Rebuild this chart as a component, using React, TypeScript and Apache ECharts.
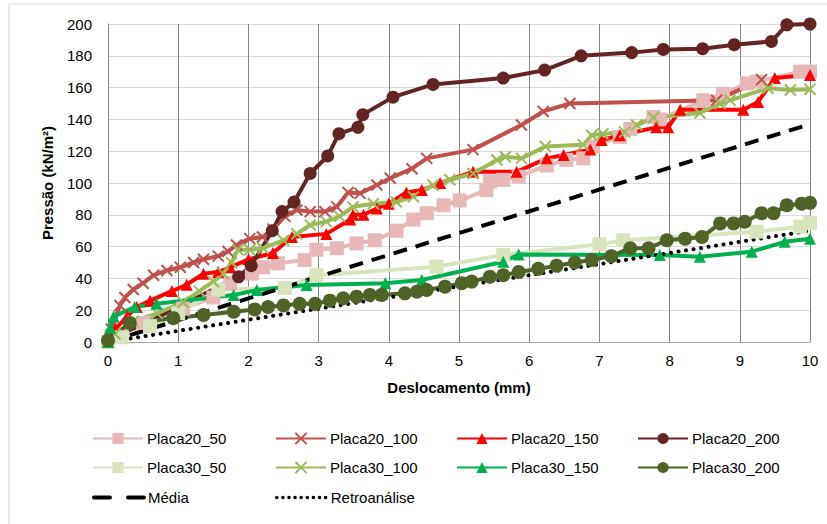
import React, { useEffect, useRef } from "react";
import * as echarts from "echarts";

const xTicks = [0, 1, 2, 3, 4, 5, 6, 7, 8, 9, 10];
const yTicks = [0, 20, 40, 60, 80, 100, 120, 140, 160, 180, 200];

const placa20_50 = [[0,0],[0.05,4],[0.5,12],[1.07,21],[1.5,28],[1.74,37],[2.05,43],[2.21,47],[2.42,49.5],[2.8,51.5],[2.97,58],[3.26,59],[3.54,62],[3.8,64],[4.11,70],[4.35,77],[4.54,81],[4.78,86],[5.01,89],[5.39,95.5],[5.44,101],[5.63,102],[5.85,104],[6.25,111],[6.53,114.5],[6.77,115.5],[6.91,123],[7.29,129],[7.44,134],[7.77,141.5],[7.86,140],[8.48,152],[8.76,156],[9.1,162.7],[9.24,163.7],[9.86,170],[10,170]];
const placa20_100 = [[0,0],[0.05,8],[0.17,23],[0.24,28],[0.36,33],[0.5,37],[0.65,42],[0.84,45],[1.03,47],[1.22,50],[1.36,52],[1.57,54],[1.71,57],[1.83,61],[2.02,65],[2.2,66],[2.35,71],[2.52,79],[2.69,83],[2.88,82],[3.09,82],[3.26,85],[3.42,94],[3.59,93.5],[3.83,98.7],[4.02,103],[4.33,109],[4.54,115.5],[5.2,121],[5.89,136.5],[6.2,145],[6.58,150],[8.67,152],[9.31,165]];
const placa20_150 = [[0,0],[0.1,8],[0.27,16],[0.41,22],[0.6,26],[0.91,32],[1.12,36],[1.36,43],[1.57,44],[1.74,47],[2.0,52],[2.35,56],[2.62,66],[3.11,68],[3.45,77],[3.49,80],[3.64,80],[3.83,84],[4.0,87],[4.25,94],[4.47,95.6],[4.73,100],[5.2,107],[5.82,107],[6.25,115.5],[6.49,117.6],[6.87,121],[7.03,127],[7.29,130],[7.81,135],[7.98,135],[8.15,146],[9.05,146],[9.26,151],[9.5,166],[10,168]];
const placa20_200 = [[0,0],[1.86,41],[2.04,48],[2.34,70],[2.48,82],[2.65,88],[2.88,106],[3.13,117],[3.29,131],[3.56,135],[3.63,143],[4.06,154],[4.63,162],[5.63,166],[6.22,171],[6.74,180],[7.46,182],[7.91,184],[8.47,184.5],[8.92,187],[9.45,189],[9.67,199.5],[10,200]];
const placa30_50 = [[0,0],[0.2,3],[0.6,10],[1.0,18],[1.57,33],[2.52,34],[2.97,42],[4.68,47.4],[5.63,54.7],[7.0,61.5],[7.34,64],[9.24,69.4],[9.86,72.5],[10,75]];
const placa30_100 = [[0,0],[0.1,5],[0.36,13],[0.7,18],[1.07,25],[1.3,32],[1.5,38],[1.64,43],[1.76,50],[1.85,58],[2.02,58],[2.21,59],[2.5,64],[2.69,68],[2.88,73.6],[3.11,75.7],[3.3,79],[3.49,85],[3.78,87],[4.11,88],[4.35,91.4],[4.63,98.7],[4.87,102],[5.2,106],[5.54,114.5],[5.66,116.5],[5.89,115.5],[6.23,123],[6.77,124],[6.89,130],[7.05,131],[7.36,132],[7.53,136.5],[7.77,141],[8.43,144],[8.72,150],[8.86,152],[9.4,159.6],[9.72,158.5],[10,159]];
const placa30_150 = [[0,0],[0.03,9],[0.08,16],[0.38,22],[0.69,24],[1.79,29.6],[2.12,32.7],[2.83,35.8],[3.95,37],[4.47,39],[5.63,50.5],[5.85,55],[7.86,54.7],[8.43,53.6],[9.17,56.8],[9.64,63],[10,65]];
const placa30_200 = [[0,1],[0.31,12],[0.93,15],[1.36,17],[1.79,19],[2.09,20.5],[2.28,22],[2.5,23],[2.73,24],[2.95,24],[3.16,26],[3.35,27.5],[3.54,28.5],[3.73,29.6],[3.9,29.6],[4.23,30.6],[4.4,31.6],[4.54,32.7],[4.8,34.8],[5.04,37],[5.18,38],[5.44,41],[5.63,42],[5.85,44],[6.13,46],[6.39,48],[6.65,50],[6.89,51.6],[7.17,54],[7.44,59],[7.7,59],[7.96,64],[8.22,65],[8.46,66],[8.72,74.6],[8.91,74.6],[9.07,75.6],[9.31,81],[9.48,81],[9.67,86],[9.88,87],[10,87.5]];
const media = [[0,0],[10,137]];
const retroanalise = [[0,0],[10,70]];

const CROSS = "path://M0,0L10,10M10,0L0,10";

export default function App() {
  const ref = useRef<HTMLDivElement>(null);
  useEffect(() => {
    document.body.style.margin = "0";
    const chart = echarts.init(ref.current!, null, { renderer: "svg" });
    const font = "'Liberation Sans', Arial, sans-serif";
    const mk = (name: string, data: number[][], color: string, symbol: string, size: number, cross = false) => ({
      name,
      type: "line",
      data,
      symbol,
      symbolSize: size,
      lineStyle: { color, width: 4 },
      itemStyle: cross
        ? { color, borderColor: color, borderWidth: 2 }
        : { color, borderWidth: 0 },
    });
    const series: any[] = [
      mk("Placa20_50", placa20_50, "#E6B9B8", "rect", 14),
      mk("Placa20_100", placa20_100, "#C0504D", CROSS, 11, true),
      mk("Placa20_150", placa20_150, "#FF0000", "triangle", 12),
      mk("Placa20_200", placa20_200, "#632523", "circle", 13),
      mk("Placa30_50", placa30_50, "#D7E4BD", "rect", 14),
      mk("Placa30_100", placa30_100, "#9BBB59", CROSS, 11, true),
      mk("Placa30_150", placa30_150, "#00B050", "triangle", 12),
      mk("Placa30_200", placa30_200, "#4F6228", "circle", 14),
      {
        name: "Média", type: "line", data: media, symbol: "none",
        lineStyle: { color: "#000", width: 4, type: [14, 9] },
        itemStyle: { color: "#000" },
      },
      {
        name: "Retroanálise", type: "line", data: retroanalise, symbol: "none",
        lineStyle: { color: "#000", width: 4, type: [0.1, 7.5], cap: "round" },
        itemStyle: { color: "#000" },
      },
    ];
    const cols = [92, 275, 456, 637];
    const rows = [431, 460, 490];
    const names = ["Placa20_50","Placa20_100","Placa20_150","Placa20_200","Placa30_50","Placa30_100","Placa30_150","Placa30_200","Média","Retroanálise"];
    const noMarker = { color: "rgba(0,0,0,0)", borderColor: "rgba(0,0,0,0)", borderWidth: 0 };
    const legends = names.map((n, i) => ({
      data: [i >= 8
        ? { name: n, itemStyle: noMarker, lineStyle: i === 8 ? { type: [16, 18], width: 4, cap: "round" } : { type: [0.1, 6], width: 3.5, cap: "round" } }
        : { name: n }],
      left: cols[i % 4],
      top: rows[Math.floor(i / 4)],
      padding: 0,
      itemWidth: 50,
      itemHeight: 14,
      selectedMode: false,
      textStyle: { fontSize: 15, color: "#000", fontFamily: font, padding: [0, 0, 0, -1] },
    }));
    chart.setOption({
      animation: false,
      backgroundColor: "#fff",
      textStyle: { fontFamily: font },
      grid: { left: 108, right: 17, top: 24, bottom: 182 },
      legend: legends,
      xAxis: {
        type: "value", min: xTicks[0], max: xTicks[xTicks.length - 1], interval: 1,
        name: "Deslocamento (mm)", nameLocation: "middle", nameGap: 38,
        nameTextStyle: { fontSize: 15, fontWeight: "bold", color: "#000", fontFamily: font },
        axisLine: { show: true, lineStyle: { color: "#A6A6A6", width: 1 } },
        axisTick: { show: false },
        axisLabel: { fontSize: 15, color: "#000", margin: 11, fontFamily: font },
        splitLine: { show: true, lineStyle: { color: "#868686", width: 1 } },
      },
      yAxis: {
        type: "value", min: yTicks[0], max: yTicks[yTicks.length - 1], interval: 20,
        name: "Pressão (kN/m²)", nameLocation: "middle", nameGap: 53,
        nameTextStyle: { fontSize: 15, fontWeight: "bold", color: "#000", fontFamily: font },
        axisLine: { show: true, lineStyle: { color: "#868686", width: 1 } },
        axisTick: { show: false },
        axisLabel: { fontSize: 15, color: "#000", margin: 16, fontFamily: font },
        splitLine: { show: true, lineStyle: { color: "#D9D9D9", width: 1 } },
      },
      graphic: [
        { type: "rect", shape: { x: 9, y: 4, width: 830, height: 540 }, style: { fill: "none", stroke: "#D9D9D9", lineWidth: 1 }, silent: true, z: -1 },
      ],
      series,
    });
    return () => chart.dispose();
  }, []);
  return <div ref={ref} style={{ width: 827, height: 524 }} />;
}
